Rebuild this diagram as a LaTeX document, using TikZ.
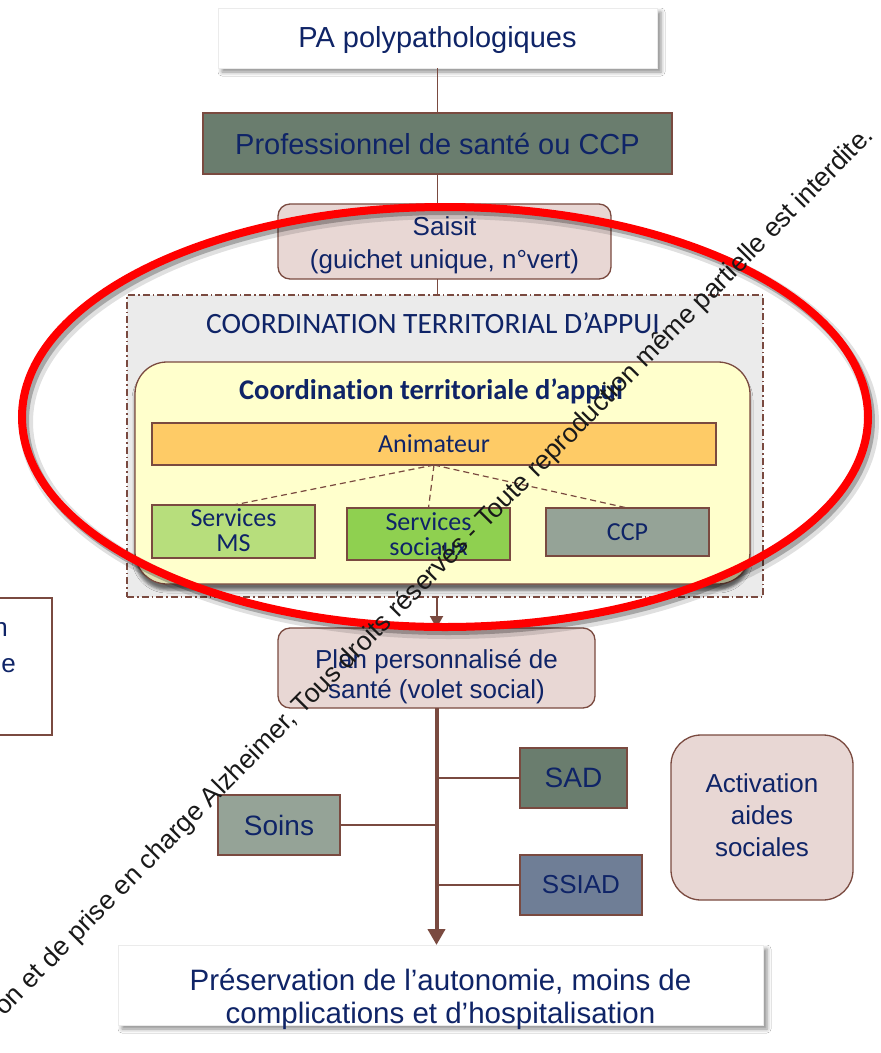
\documentclass[tikz,border=0pt]{standalone}
\usepackage{fontspec}
\setmainfont{Liberation Sans}
\newfontfamily\calfont[Ligatures=NoCommon]{Carlito}
\usetikzlibrary{shadows.blur,arrows.meta}

\definecolor{txt}{HTML}{0F2467}
\definecolor{brn}{HTML}{7A4A40}
\definecolor{dkgreen}{HTML}{6A7D6E}
\definecolor{ltgreen}{HTML}{95A397}
\definecolor{slate}{HTML}{6F7E96}
\definecolor{pinkf}{HTML}{E8D7D4}
\definecolor{yel}{HTML}{FFFFCC}
\definecolor{orng}{HTML}{FECB66}
\definecolor{msg}{HTML}{B7DE7C}
\definecolor{socg}{HTML}{8FD050}
\definecolor{grayb}{HTML}{EBEBEB}
\definecolor{redl}{HTML}{FF0000}

\newcommand{\lowr}[2]{\raisebox{-#1}[\height][\depth]{\begin{tabular}{@{}c@{}}#2\end{tabular}}}

\begin{document}
\begin{tikzpicture}[x=1pt,y=-1pt,
  box/.style={draw=brn, line width=1.3pt, text=txt, inner sep=0pt, outer sep=0pt, align=center},
  whitebox/.style={fill=white, draw=black!8, line width=0.6pt, text=txt, inner sep=0pt, outer sep=0pt, align=center,
    blur shadow={shadow xshift=4pt, shadow yshift=-4pt, shadow blur radius=4pt, shadow opacity=45}},
  conn/.style={draw=brn, line width=1.3pt},
  dashconn/.style={draw=brn, line width=1.2pt, dash pattern=on 6pt off 4pt},
  fA/.style={font=\fontsize{29}{33}\selectfont},
  fB/.style={font=\fontsize{26}{32}\selectfont},
  fC/.style={font=\calfont\fontsize{26}{25}\selectfont},
]
\useasboundingbox (0,0) rectangle (881,1053);
\fill[white] (0,0) rectangle (881,1053);

% top boxes
\node[whitebox, fA, minimum width=439pt, minimum height=60pt] (pa) at (437.5,38) {\lowr{3pt}{PA polypathologiques}};
\node[box, fA, fill=dkgreen, minimum width=469pt, minimum height=61pt] (prof) at (437.5,143.5) {Professionnel de santé ou CCP};
\node[box, font=\fontsize{26}{33}\selectfont, fill=pinkf, rounded corners=12pt, minimum width=333pt, minimum height=75pt] (saisit) at (444.5,241.5) {\lowr{4pt}{Saisit\\(guichet unique, n°vert)}};

% coordination area
\node[fill=grayb, draw=brn, line width=1.2pt, dash pattern=on 7pt off 3pt on 1.5pt off 3pt, minimum width=636pt, minimum height=302pt, inner sep=0pt, outer sep=0pt] (cta) at (445,446) {};
\node[text=txt, font=\calfont\fontsize{29.5}{30}\selectfont, inner sep=0pt] (ctatitle) at (433,323) {COORDINATION TERRITORIAL D’APPUI};
\node[box, fill=yel, rounded corners=32pt, minimum width=615pt, minimum height=222pt,
  blur shadow={shadow xshift=0pt, shadow yshift=-6pt, shadow blur radius=3pt, shadow opacity=55}] (yellow) at (442.5,473) {};
\node[text=txt, font=\calfont\bfseries\fontsize{28.5}{30}\selectfont, inner sep=0pt] (ytitle) at (431,391) {Coordination territoriale d’appui};
\node[box, fC, fill=orng, minimum width=564pt, minimum height=42pt] (anim) at (434,444) {Animateur};
\node[box, fC, fill=msg, minimum width=163pt, minimum height=53pt] (ms) at (233.5,531.5) {\lowr{2pt}{Services\\MS}};
\node[box, fC, fill=socg, minimum width=163pt, minimum height=52pt] (soc) at (428.5,534) {Services\\sociaux};
\node[box, fC, fill=ltgreen, minimum width=163pt, minimum height=48pt] (ccp) at (627.5,532) {CCP};
\draw[dashconn] (anim.south) -- (ms.north);
\draw[dashconn] (anim.south) -- (soc.north);
\draw[dashconn] (anim.south) -- (ccp.north);

% lower part
\node[box, font=\fontsize{26}{30}\selectfont, fill=pinkf, rounded corners=12pt, minimum width=317pt, minimum height=80pt] (plan) at (436.5,668) {\lowr{9pt}{Plan personnalisé de\\santé (volet social)}};
\node[box, font=\fontsize{28}{30}\selectfont, fill=dkgreen, minimum width=107pt, minimum height=60pt] (sad) at (573.5,778) {SAD};
\node[box, font=\fontsize{28}{30}\selectfont, fill=ltgreen, minimum width=122pt, minimum height=60pt] (soins) at (279,825) {Soins};
\node[box, font=\fontsize{26}{30}\selectfont, fill=slate, minimum width=122pt, minimum height=60pt] (ssiad) at (581,885) {\lowr{2pt}{SSIAD}};
\node[box, fB, fill=pinkf, rounded corners=30pt, minimum width=182pt, minimum height=165pt] (act) at (762,817.5) {\lowr{1pt}{Activation\\aides\\sociales}};
\node[whitebox, font=\fontsize{29.5}{33}\selectfont, minimum width=645pt, minimum height=80pt] (bottom) at (440.5,985) {\lowr{15pt}{Préservation de l’autonomie, moins de\\complications et d’hospitalisation}};

% left partial box
\node[box, fill=white, minimum width=80pt, minimum height=137pt] (leftbox) at (12,666.5) {};
\node[text=txt, font=\fontsize{26}{30}\selectfont, inner sep=0pt, anchor=base east] (leftA) at (8,636) {n};
\node[text=txt, font=\fontsize{26}{30}\selectfont, inner sep=0pt, anchor=base east] (leftB) at (16,672) {e};

% connectors
\draw[conn] (pa.south) -- (prof.north);
\draw[conn] (prof.south) -- (prof.south |- saisit.north);
\draw[conn] (pa.south |- saisit.south) -- (pa.south |- cta.north);
\draw[draw=brn, line width=2pt, -{Triangle[width=13pt,length=12pt]}] (plan.north |- cta.south) -- (plan.north);
\coordinate (jsad) at (plan.south |- sad.west);
\coordinate (jsoins) at (plan.south |- soins.east);
\coordinate (jssiad) at (plan.south |- ssiad.west);
\draw[conn] (jsad) -- (sad.west);
\draw[conn] (jsoins) -- (soins.east);
\draw[conn] (jssiad) -- (ssiad.west);
\draw[draw=brn, line width=4pt, -{Triangle[width=17pt,length=16pt]}] (plan.south) -- (plan.south |- bottom.north);

% red ellipse with shadow
\draw[black, opacity=0.12, line width=14pt] (449,422) ellipse [x radius=423, y radius=210];
\draw[black, opacity=0.25, line width=8pt] (448,421) ellipse [x radius=423, y radius=210];
\draw[redl, line width=8pt] (445,417) ellipse [x radius=423, y radius=210];

% watermark text
\node[rotate=45.3, anchor=base east, inner sep=0pt, font=\fontsize{26.5}{30}\selectfont, text=black!90] (wm) at (875,137)
  {on et de prise en charge Alzheimer, Tous droits réservés - Toute reproduction même partielle est interdite.};
\end{tikzpicture}
\end{document}
